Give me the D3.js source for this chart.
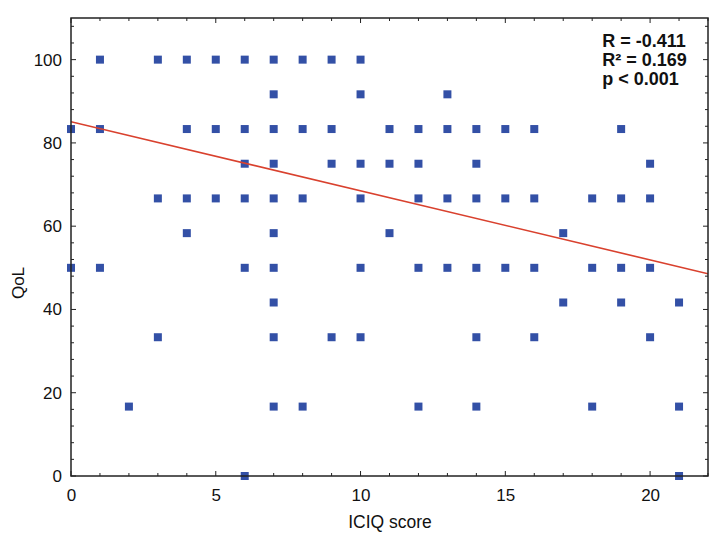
<!DOCTYPE html>
<html>
<head>
<meta charset="utf-8">
<script src="https://cdn.jsdelivr.net/npm/d3@7"></script>
<style>
  body { margin: 0; background: #fff; }
  svg text { font-family: "Liberation Sans", Arial, sans-serif; fill: #111; }
</style>
</head>
<body>
<svg id="chart" width="716" height="537"></svg>
<script>
// QoL levels come in steps of 100/12
const iciqScores = [
  1, 3, 4, 5, 6, 7, 8, 9, 10,
  7, 10, 13,
  0, 1, 4, 5, 6, 7, 8, 9, 11, 12, 13, 14, 15, 16, 19,
  6, 7, 9, 10, 11, 12, 14, 20,
  3, 4, 5, 6, 7, 8, 10, 12, 13, 14, 15, 16, 18, 19, 20,
  4, 7, 11, 17,
  0, 1, 6, 7, 10, 12, 13, 14, 15, 16, 18, 19, 20,
  7, 17, 19, 21,
  3, 7, 9, 10, 14, 16, 20,
  2, 7, 8, 12, 14, 18, 21,
  6, 21
];
const qolScores = [
  100, 100, 100, 100, 100, 100, 100, 100, 100,
  91.67, 91.67, 91.67,
  83.33, 83.33, 83.33, 83.33, 83.33, 83.33, 83.33, 83.33, 83.33, 83.33, 83.33, 83.33, 83.33, 83.33, 83.33,
  75, 75, 75, 75, 75, 75, 75, 75,
  66.67, 66.67, 66.67, 66.67, 66.67, 66.67, 66.67, 66.67, 66.67, 66.67, 66.67, 66.67, 66.67, 66.67, 66.67,
  58.33, 58.33, 58.33, 58.33,
  50, 50, 50, 50, 50, 50, 50, 50, 50, 50, 50, 50, 50,
  41.67, 41.67, 41.67, 41.67,
  33.33, 33.33, 33.33, 33.33, 33.33, 33.33, 33.33,
  16.67, 16.67, 16.67, 16.67, 16.67, 16.67, 16.67,
  0, 0
];
const xTicks = [0, 5, 10, 15, 20];
const yTicks = [0, 20, 40, 60, 80, 100];
// fitted line
const fitIntercept = 85.1;
const fitSlope = -1.66;
const statsLines = ["R = -0.411", "R\u00b2 = 0.169", "p < 0.001"];

const margin = { top: 18, right: 8, bottom: 61, left: 71 };
const width = 716 - margin.left - margin.right;
const height = 537 - margin.top - margin.bottom;

const svg = d3.select("#chart");
const g = svg.append("g").attr("transform", `translate(${margin.left},${margin.top})`);

const x = d3.scaleLinear().domain([0, 22]).range([0, width]);
const y = d3.scaleLinear().domain([0, 110]).range([height, 0]);

g.append("clipPath").attr("id", "plotclip")
  .append("rect").attr("width", width).attr("height", height);

// minor ticks, inward on all four sides
const minorX = d3.range(0, 23, 1);
const minorY = d3.range(0, 111, 4);
const tickG = g.append("g").attr("stroke", "#222").attr("stroke-width", 1);
minorX.forEach(v => {
  const len = v % 5 === 0 ? 5 : 3;
  tickG.append("line").attr("x1", x(v)).attr("x2", x(v)).attr("y1", height).attr("y2", height - len);
  tickG.append("line").attr("x1", x(v)).attr("x2", x(v)).attr("y1", 0).attr("y2", len);
});
minorY.forEach(v => {
  const len = v % 20 === 0 ? 5 : 3;
  tickG.append("line").attr("y1", y(v)).attr("y2", y(v)).attr("x1", 0).attr("x2", len);
  tickG.append("line").attr("y1", y(v)).attr("y2", y(v)).attr("x1", width).attr("x2", width - len);
});

// axes for the labels
const xAxis = g.append("g").attr("transform", `translate(0,${height})`)
  .call(d3.axisBottom(x).tickValues(xTicks).tickSize(0).tickPadding(13));
const yAxis = g.append("g")
  .call(d3.axisLeft(y).tickValues(yTicks).tickSize(0).tickPadding(9));
[xAxis, yAxis].forEach(a => {
  a.select(".domain").remove();
  a.selectAll("text").style("font-size", "17px").attr("fill", "#111");
});

// data points
const pts = iciqScores.map((v, i) => ({ x: v, y: qolScores[i] }));
g.append("g").selectAll("rect")
  .data(pts)
  .join("rect")
  .attr("x", d => x(d.x) - 4)
  .attr("y", d => y(d.y) - 4)
  .attr("width", 8)
  .attr("height", 8)
  .attr("fill", "#3350a6");

// regression line
g.append("line")
  .attr("clip-path", "url(#plotclip)")
  .attr("x1", x(0)).attr("y1", y(fitIntercept))
  .attr("x2", x(22)).attr("y2", y(fitIntercept + fitSlope * 22))
  .attr("stroke", "#d9412e")
  .attr("stroke-width", 1.6);

// frame
g.append("rect")
  .attr("width", width).attr("height", height)
  .attr("fill", "none").attr("stroke", "#222").attr("stroke-width", 1.5);

// stats text
g.append("g").selectAll("text")
  .data(statsLines)
  .join("text")
  .attr("x", x(18.35))
  .attr("y", (d, i) => 29 + i * 18.8)
  .style("font-size", "18px")
  .style("font-weight", "bold")
  .text(d => d);

// axis titles
svg.append("text")
  .attr("x", 390).attr("y", 528)
  .attr("text-anchor", "middle")
  .style("font-size", "17.5px")
  .text("ICIQ score");
svg.append("text")
  .attr("transform", "translate(24,283) rotate(-90)")
  .attr("text-anchor", "middle")
  .style("font-size", "17px")
  .text("QoL");
</script>
</body>
</html>
